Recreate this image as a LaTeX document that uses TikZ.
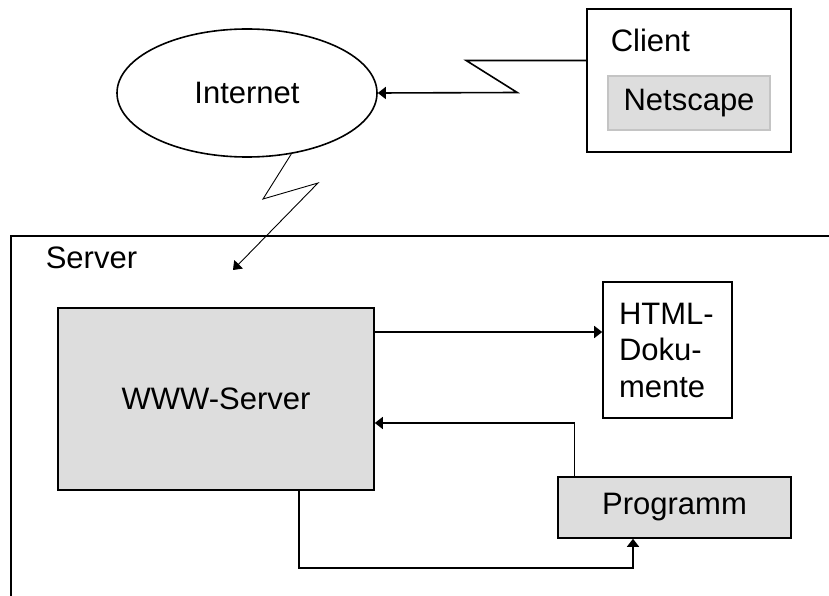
\documentclass[tikz,border=0pt]{standalone}
\usepackage{fontspec}
\setmainfont{Liberation Sans}
\usetikzlibrary{shapes.geometric,arrows.meta}
\definecolor{boxgray}{HTML}{DDDDDD}
\definecolor{rimgray}{HTML}{C4C4C4}

\begin{document}
\begin{tikzpicture}[x=1pt,y=-1pt,line width=1.6pt,
  font=\fontsize{31}{36.5}\selectfont,
  arr/.style={-{Triangle[length=8pt,width=12pt]}},
  graybox/.style={draw,fill=boxgray,inner sep=0pt}]
\useasboundingbox (0,0) rectangle (829,596);

\node[ellipse,draw,minimum width=260,minimum height=128] (internet) at (247,93) {Internet};

\node[draw,minimum width=204,minimum height=143] (client) at (689,80.5) {};
\node[anchor=west,inner sep=0pt] (clientlabel) at (610,40) {Client};
\node[graybox,draw=rimgray,minimum width=162,minimum height=54] (netscape) at (689,103) {Netscape};

% server frame
\draw (829,236) -- (11,236) -- (11,596);
\node[anchor=west,inner sep=0pt] (serverlabel) at (45,258) {Server};
\coordinate (srvin) at (233,270);

\node[graybox,minimum width=316,minimum height=182] (www) at (216,399) {WWW-Server};
\node[draw,minimum width=129,minimum height=136,inner xsep=16pt,text width=97pt,align=left] (html) at (667.5,350) {HTML-\\Doku-\\mente};
\node[graybox,minimum width=233,minimum height=61] (programm) at (674.5,507.5) {Programm};

% connectors
\draw[arr] (client.west) ++(0,-20) -- ++(-120,0) -- ++(51,32) -- (internet.east);
\draw[arr,line width=0.9pt] (internet.-54) -- (263,199) -- (318,183) -- (srvin);
\draw[arr] ([yshift=18pt]html.west -| www.east) -- ([yshift=18pt]html.west);
\draw[arr] ([xshift=-100pt]programm.north) |- ([yshift=-24pt]www.east);
\draw[arr] ([xshift=83pt]www.south) -- ++(0,77) -| ([xshift=-41.5pt]programm.south);
\end{tikzpicture}
\end{document}
